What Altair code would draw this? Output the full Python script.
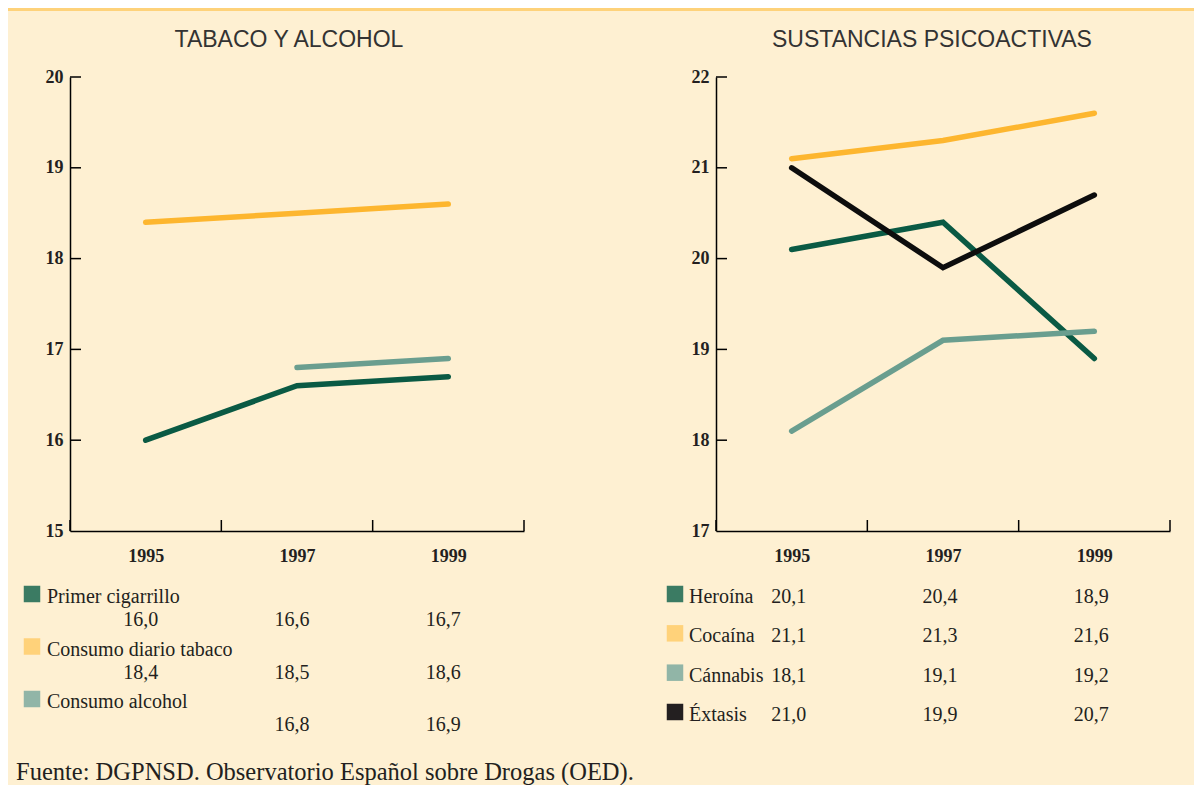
import altair as alt
import pandas as pd

# ---------------- data ----------------
years = [1995, 1997, 1999]
x_bounds = [1994, 1996, 1998, 2000]

tabaco_title = "TABACO Y ALCOHOL"
tabaco_series = ["Primer cigarrillo", "Consumo diario tabaco", "Consumo alcohol"]
primer_cigarrillo = [16.0, 16.6, 16.7]
consumo_diario_tabaco = [18.4, 18.5, 18.6]
consumo_alcohol = [None, 16.8, 16.9]
tabaco_yticks = [15, 16, 17, 18, 19, 20]

sust_title = "SUSTANCIAS PSICOACTIVAS"
sust_series = ["Heroína", "Cocaína", "Cánnabis", "Éxtasis"]
heroina = [20.1, 20.4, 18.9]
cocaina = [21.1, 21.3, 21.6]
cannabis = [18.1, 19.1, 19.2]
extasis = [21.0, 19.9, 20.7]
sust_yticks = [17, 18, 19, 20, 21, 22]

footer_text = "Fuente: DGPNSD. Observatorio Español sobre Drogas (OED)."

# ---------------- style ----------------
BG = "#FEF0D2"
STRIP = "#FED27A"
TEXT = "#231F20"
SERIF = "Liberation Serif"
SANS = "Liberation Sans"
W, H = 454, 454

tabaco_line_colors = ["#0A5A44", "#FDB62F", "#6A9E8F"]
tabaco_square_colors = ["#3B7B63", "#FFD27A", "#91B5A7"]
sust_line_colors = ["#0A5A44", "#FDB62F", "#6A9E8F", "#0D0D0D"]
sust_square_colors = ["#3B7B63", "#FFD27A", "#91B5A7", "#231F20"]


def fmt(v):
    return f"{v:.1f}".replace(".", ",")


def x_enc():
    return alt.X(
        "year:Q",
        scale=alt.Scale(domain=[x_bounds[0], x_bounds[-1]], nice=False, zero=False),
        axis=alt.Axis(values=years, format="d", title=None, grid=False, ticks=False,
                      tickSize=0, labelPadding=16, labelFont=SERIF, labelFontSize=18,
                      labelFontWeight="bold", labelColor=TEXT, domainColor="#000000",
                      domainWidth=1.5, labelFlush=False, labelOverlap=False),
    )


def y_enc(yvals):
    return alt.Y(
        "value:Q",
        scale=alt.Scale(domain=[yvals[0], yvals[-1]], nice=False, zero=False),
        axis=alt.Axis(values=yvals, format="d", title=None, grid=False, ticks=False,
                      tickSize=0, labelPadding=7, labelFont=SERIF, labelFontSize=18,
                      labelFontWeight="bold", labelColor=TEXT, domainColor="#000000",
                      domainWidth=1.5, labelFlush=False, labelOverlap=False),
    )


def panel(values, colors, yvals, title, title_dx):
    layers = []
    for vals, col in zip(values, colors):
        df = pd.DataFrame({"year": years, "value": vals}).dropna()
        layers.append(
            alt.Chart(df).mark_line(color=col, strokeWidth=5.5, strokeCap="round")
            .encode(x=x_enc(), y=y_enc(yvals))
        )
    xt = alt.Chart(pd.DataFrame({"year": x_bounds})).mark_rule(
        color="#000000", strokeWidth=1.5
    ).encode(x=x_enc(), y=alt.value(H), y2=alt.value(H - 11))
    yt = alt.Chart(pd.DataFrame({"value": yvals[1:]})).mark_rule(
        color="#000000", strokeWidth=1.5
    ).encode(y=y_enc(yvals), x=alt.value(0), x2=alt.value(11))
    tt = alt.Chart(pd.DataFrame({"t": [title]})).mark_text(
        font=SANS, fontSize=23, color="#333333", align="center", baseline="alphabetic"
    ).encode(text="t:N", x=alt.value(W / 2 + title_dx), y=alt.value(-30))
    return alt.layer(*layers, xt, yt, tt).properties(width=W, height=H)


def table(names, values, sq_colors, row_range, sq_x, lab_x, val_dx, val_dy, lab_dy, height):
    rows = pd.DataFrame({"series": names, "col": sq_colors})
    recs = []
    for name, vals in zip(names, values):
        for yr, v in zip(years, vals):
            if v is not None:
                recs.append({"series": name, "year": yr, "label": fmt(v)})
    vdf = pd.DataFrame(recs)
    Yr = alt.Y("series:N", scale=alt.Scale(domain=names, range=row_range, padding=0), axis=None)
    sq = alt.Chart(rows).mark_square(size=272, opacity=1).encode(
        x=alt.value(sq_x), y=Yr,
        color=alt.Color("col:N", scale=None, legend=None),
    )
    lab = alt.Chart(rows).mark_text(
        align="left", baseline="middle", dy=lab_dy, font=SERIF, fontSize=20, color=TEXT
    ).encode(x=alt.value(lab_x), y=Yr, text="series:N")
    val = alt.Chart(vdf).mark_text(
        align="center", baseline="middle", dx=val_dx, dy=val_dy, font=SERIF, fontSize=20, color=TEXT
    ).encode(
        x=alt.X("year:Q", scale=alt.Scale(domain=[x_bounds[0], x_bounds[-1]], nice=False, zero=False), axis=None),
        y=Yr, text="label:N",
    )
    return alt.layer(sq, lab, val).properties(width=W, height=height)


plot_left = panel([primer_cigarrillo, consumo_diario_tabaco, consumo_alcohol],
                  tabaco_line_colors, tabaco_yticks, tabaco_title, -8)
plot_right = panel([heroina, cocaina, cannabis, extasis],
                   sust_line_colors, sust_yticks, sust_title, -11)

table_left = table(tabaco_series, [primer_cigarrillo, consumo_diario_tabaco, consumo_alcohol],
                   tabaco_square_colors, [63, 168], -38, -23, -5, 26, 3, 209)
table_right = table(sust_series, [heroina, cocaina, cannabis, extasis],
                    sust_square_colors, [63, 181], -41, -27, -3, 3, 3, 209)

strip = alt.Chart(pd.DataFrame({"a": [0]})).mark_rect(color=STRIP).encode(
    x=alt.value(-62), x2=alt.value(1124), y=alt.value(-732), y2=alt.value(-729)
)
foot = alt.Chart(pd.DataFrame({"t": [footer_text]})).mark_text(
    align="left", baseline="middle", font=SERIF, fontSize=24.5, color=TEXT
).encode(text="t:N", x=alt.value(-54), y=alt.value(33))
footer = alt.layer(strip, foot).properties(width=W, height=44)

chart = alt.concat(
    plot_left, plot_right, table_left, table_right, footer,
    columns=2, spacing={"row": 0, "column": 192}, bounds="flush",
).properties(padding=0, background=BG).configure_view(strokeWidth=0)

chart.save("out.html", embed_options={"renderer": "svg", "actions": False})
